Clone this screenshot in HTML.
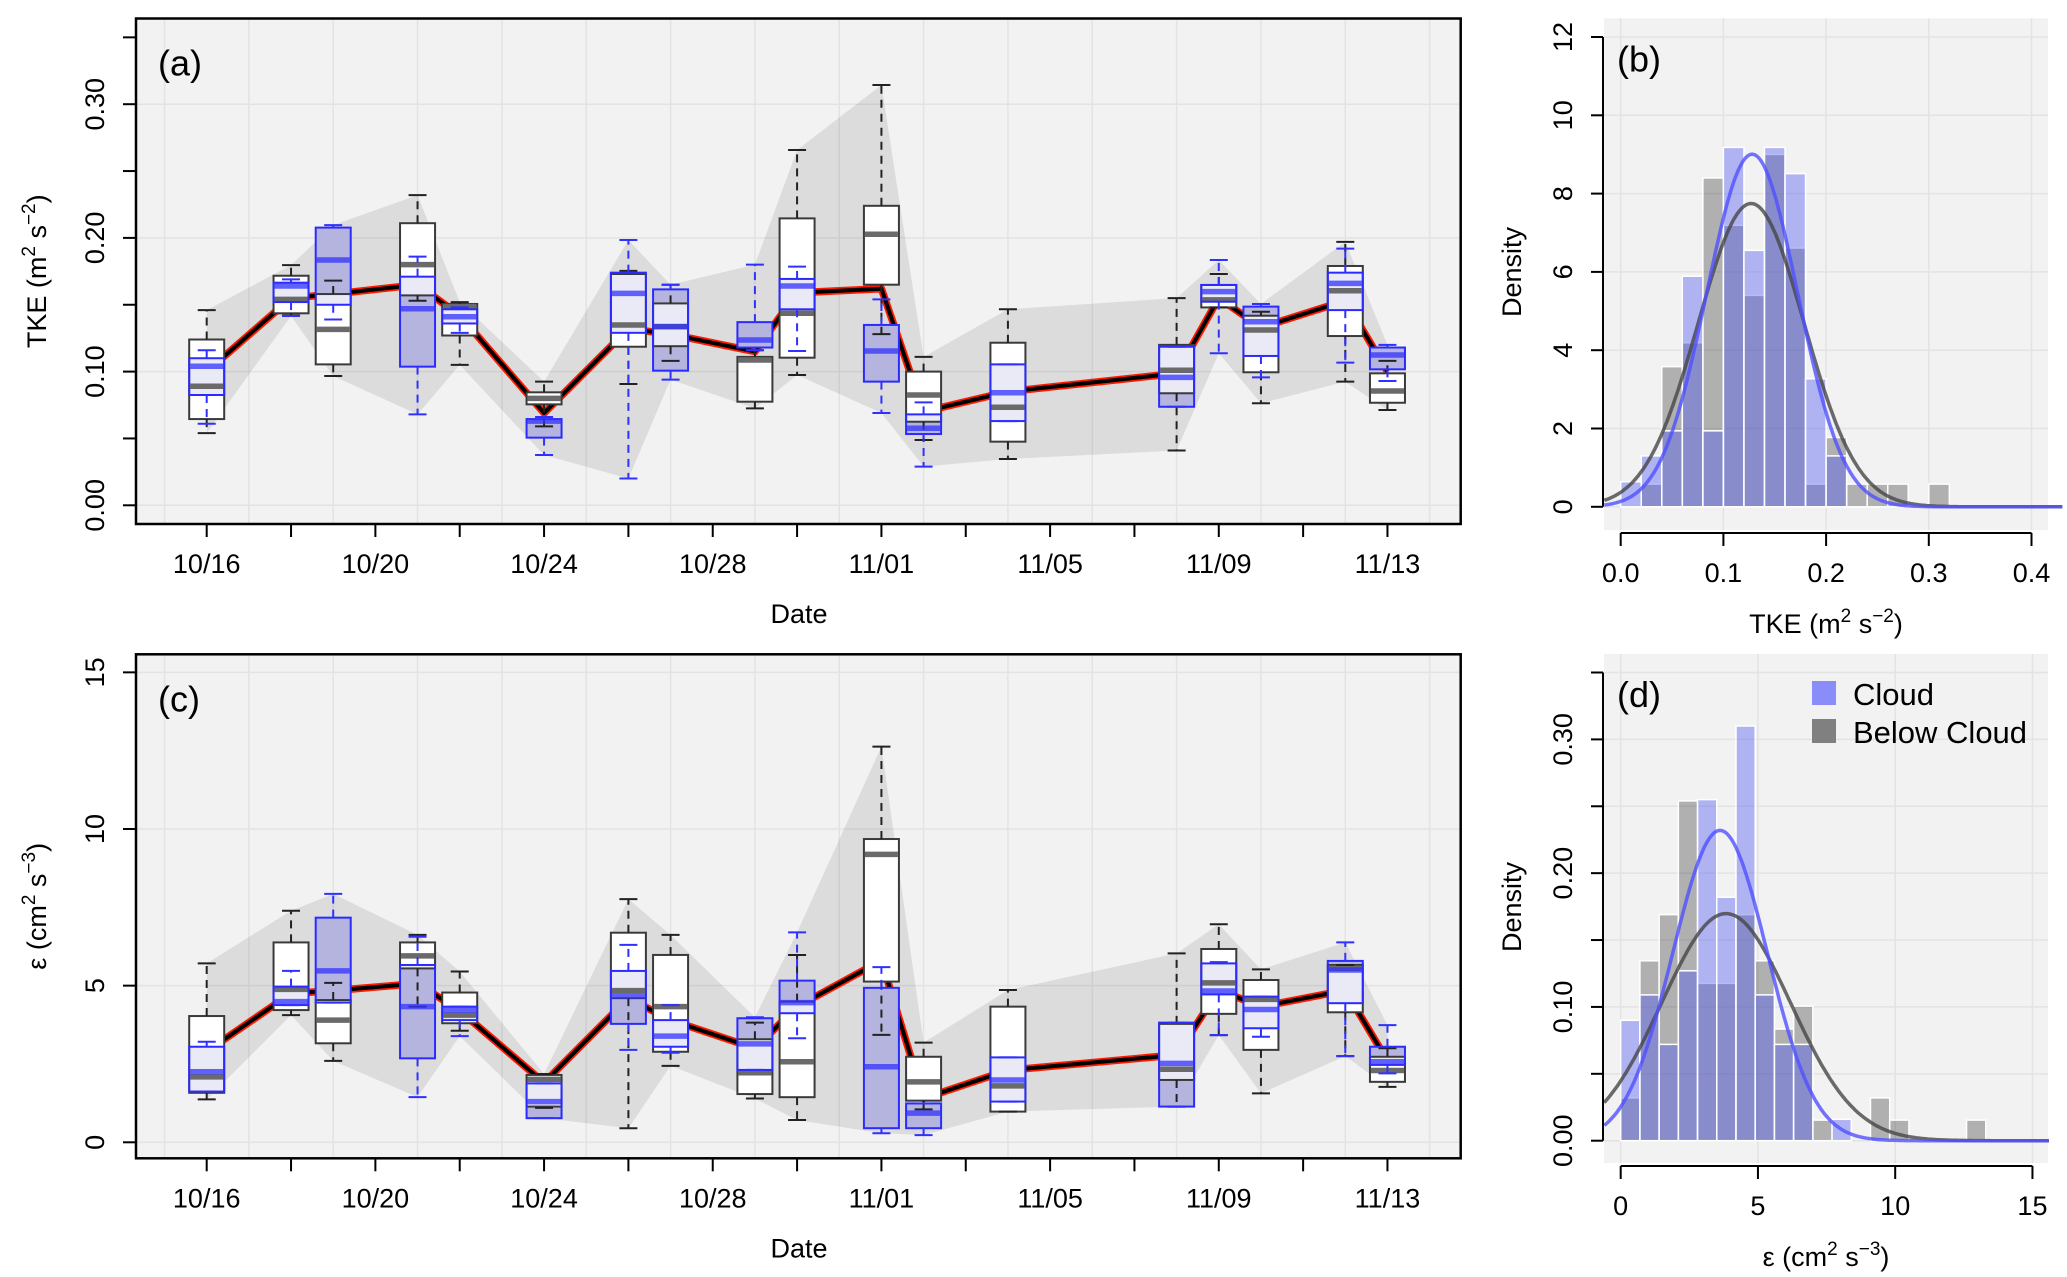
<!DOCTYPE html>
<html><head><meta charset="utf-8">
<style>
html,body{margin:0;padding:0;background:#fff;}
svg{display:block;font-family:"Liberation Sans",Arial,sans-serif;}
</style></head>
<body>
<svg id="fig" xmlns="http://www.w3.org/2000/svg" width="2067" height="1277" viewBox="0 0 2067 1277"></svg>
<script>
// ===== Panel (a) TKE box data =====
const days = [0,2,3,5,6,8,10,11,13,14,16,17,19,23,24,25,27,28];
const dateLabels = ["10/16","10/20","10/24","10/28","11/01","11/05","11/09","11/13"];
const A_bLo  = [0.054,0.142,0.0967,0.153,0.105,0.059,0.0907,0.108,0.0725,0.0975,0.128,0.0488,0.0346,0.041,0.148,0.0763,0.0925,0.0713];
const A_bQ1  = [0.0645,0.1436,0.1054,0.157,0.127,0.0755,0.1186,0.119,0.0775,0.1104,0.165,0.0625,0.0476,0.0838,0.148,0.0995,0.1266,0.0767];
const A_bMed = [0.089,0.154,0.1316,0.180,0.1486,0.080,0.1349,0.1336,0.1087,0.1436,0.2027,0.0825,0.0733,0.101,0.1536,0.1311,0.1605,0.0855];
const A_bQ3  = [0.124,0.1717,0.158,0.211,0.1506,0.0845,0.173,0.151,0.111,0.2146,0.224,0.100,0.1216,0.120,0.1648,0.1418,0.179,0.0987];
const A_bHi  = [0.146,0.1796,0.168,0.232,0.152,0.0925,0.1753,0.165,0.116,0.2657,0.3144,0.111,0.1466,0.155,0.173,0.1448,0.197,0.108];
const A_cLo  = [0.061,0.1416,0.139,0.068,0.129,0.0376,0.020,0.094,0.116,0.1154,0.069,0.0289,0.063,0.0737,0.1137,0.0957,0.1067,0.093];
const A_cQ1  = [0.0825,0.152,0.150,0.1037,0.136,0.0506,0.129,0.1007,0.118,0.1466,0.0925,0.0533,0.063,0.0737,0.1523,0.1117,0.146,0.1017];
const A_cMed = [0.104,0.164,0.1835,0.147,0.141,0.063,0.1585,0.1336,0.1236,0.164,0.1154,0.0576,0.0842,0.0957,0.1598,0.1373,0.166,0.1124];
const A_cQ3  = [0.110,0.1665,0.2077,0.171,0.1466,0.0645,0.174,0.1615,0.137,0.1693,0.1349,0.068,0.1054,0.1186,0.1648,0.1486,0.174,0.118];
const A_cHi  = [0.116,0.169,0.2096,0.186,0.148,0.066,0.1984,0.165,0.180,0.1785,0.154,0.077,0.1054,0.1186,0.1835,0.1506,0.192,0.120];
const A_line = [0.100,0.155,0.158,0.165,0.142,0.069,0.132,0.128,0.115,0.159,0.162,0.070,0.085,0.0987,0.155,0.133,0.153,0.100];
const A_yTicks = [0,0.05,0.10,0.15,0.20,0.25,0.30,0.35];
const A_yLabels = ["0.00","0.10","0.20","0.30"];

// ===== Panel (c) dissipation box data =====
const C_bLo  = [1.37,4.06,2.60,4.33,3.56,1.10,0.45,2.44,1.40,0.71,3.43,1.05,0.98,1.14,3.42,1.56,2.75,1.77];
const C_bQ1  = [1.58,4.22,3.16,5.55,3.80,1.14,4.60,2.89,1.54,1.44,5.13,1.33,0.98,1.99,4.10,2.95,4.15,1.93];
const C_bMed = [2.09,4.88,3.90,5.95,4.06,2.01,4.84,4.33,2.22,2.57,9.19,1.93,1.80,2.33,5.09,4.56,5.55,2.29];
const C_bQ3  = [4.03,6.38,4.54,6.38,4.78,2.15,6.69,5.98,3.29,4.49,9.68,2.73,4.33,3.78,6.17,5.18,5.66,2.73];
const C_bHi  = [5.71,7.39,5.09,6.62,5.45,2.18,7.76,6.62,3.82,5.98,12.63,3.18,4.86,6.03,6.96,5.52,5.66,3.00];
const C_cLo  = [1.62,4.38,4.46,1.44,3.39,0.77,2.95,2.86,2.31,3.32,0.29,0.23,1.30,1.14,3.42,3.37,2.75,2.20];
const C_cQ1  = [1.62,4.38,4.46,2.68,3.90,0.77,3.78,3.05,2.31,4.12,0.45,0.45,1.30,1.14,4.72,3.64,4.44,2.47];
const C_cMed = [2.25,4.49,5.47,4.33,4.22,1.30,4.67,3.39,3.14,4.46,2.41,0.93,1.99,2.52,4.83,4.24,5.50,2.57];
const C_cQ3  = [3.05,4.97,7.17,5.66,4.33,1.88,5.47,3.90,3.96,5.16,4.93,1.24,2.71,3.82,5.71,4.65,5.79,3.05];
const C_cHi  = [3.21,5.47,7.93,6.56,4.33,1.88,6.30,4.38,3.99,6.70,5.59,1.24,2.71,3.82,5.75,4.65,6.38,3.74];
const C_line = [2.9,4.75,4.84,5.07,4.2,1.9,4.6,3.9,3.0,4.33,5.8,1.40,2.3,2.79,4.86,4.33,4.85,2.6];
const C_yTicks = [0,5,10,15];
const C_yLabels = ["0","5","10","15"];

// ===== Panel (b) TKE histogram =====
const B_binStart = 0.0, B_binWidth = 0.02;
const B_cloud = [0.64,1.30,1.94,5.89,1.94,9.18,6.55,9.18,8.51,3.27,1.30,0,0,0,0,0];
const B_below = [0,0.58,3.58,4.19,8.40,7.19,5.40,9.00,6.61,0.58,1.77,0.58,0.58,0.58,0,0.58];
const B_fitCloud = [0.128,0.0443];   // mean, sd
const B_fitBelow = [0.127,0.0515];
const B_xTicks = [0,0.1,0.2,0.3,0.4];
const B_xLabels = ["0.0","0.1","0.2","0.3","0.4"];
const B_yTicks = [0,2,4,6,8,10,12];

// ===== Panel (d) dissipation histogram =====
const D_binStart = 0.0, D_binWidth = 0.7;
const D_cloud = [0.090,0.109,0.072,0.127,0.255,0.182,0.310,0.109,0.072,0.072,0,0.016,0,0,0,0,0,0,0];
const D_below = [0.032,0.1345,0.169,0.254,0.1176,0.1176,0.169,0.1345,0.0835,0.1006,0.0154,0,0,0.032,0.0154,0,0,0,0.0154];
const D_fitCloud = [3.62,1.72];
const D_fitBelow = [3.84,2.35];
const D_xTicks = [0,5,10,15];
const D_yTicks = [0,0.05,0.10,0.15,0.20,0.25,0.30,0.35];
const D_yLabels = ["0.00","0.10","0.20","0.30"];

const NS = "http://www.w3.org/2000/svg";
const svg = document.getElementById("fig");
function mk(tag, attrs, parent){
  const e = document.createElementNS(NS, tag);
  for (const k in attrs) e.setAttribute(k, attrs[k]);
  (parent||svg).appendChild(e);
  return e;
}
function grp(parent){ return mk("g", {}, parent); }

const xA = d => 206.7 + 42.17*d;
const FS = 27;

function boxPanel(P){
  const g = grp();
  
  
  const bg = mk("rect",{x:136,y:P.top,width:1324.7,height:P.bottom-P.top,fill:"#f2f2f2"},g);
  
  
  for (let d=-1; d<=29; d+=2){
    const l = mk("line",{x1:xA(d),x2:xA(d),y1:P.top,y2:P.bottom,stroke:"#e3e3e3","stroke-width":1.5},g);
    
    
  }
  P.gridY.forEach(v=>{
    const l = mk("line",{x1:136,x2:1460.7,y1:P.y(v),y2:P.y(v),stroke:"#e3e3e3","stroke-width":1.5},g);
    
    
  });
  let top=[], bot=[];
  days.forEach((d,i)=>{
    top.push(xA(d)+","+P.y(Math.max(P.bHi[i],P.cHi[i])));
    bot.unshift(xA(d)+","+P.y(Math.min(P.bLo[i],P.cLo[i])));
  });
  const env = mk("polygon",{points:top.concat(bot).join(" "),fill:"rgba(0,0,0,0.09)"},g);
  
  
  const pts = days.map((d,i)=>xA(d)+","+P.y(P.line[i])).join(" ");
  const lr = mk("polyline",{points:pts,fill:"none",stroke:"#ff1a00","stroke-width":7.5,"stroke-linejoin":"round"},g);
  
  
  const lb = mk("polyline",{points:pts,fill:"none",stroke:"#000","stroke-width":4,"stroke-linejoin":"round"},g);
  
  
  const hw = 17.5, cw = 9;
  days.forEach((d,i)=>{
    const x = xA(d);
    const bg2 = grp(g);
    
    
    const cy3 = P.y(P.cQ3[i]), cy1 = P.y(P.cQ1[i]);
    const by3 = P.y(P.bQ3[i]), by1 = P.y(P.bQ1[i]);
    const bb = mk("rect",{x:x-hw,y:by3,width:2*hw,height:Math.max(1,by1-by3),fill:"#fff"},bg2);
    
    
    const cf = mk("rect",{x:x-hw,y:cy3,width:2*hw,height:Math.max(1,cy1-cy3),fill:"#b4b4de"},bg2);
    
    
    const bf = mk("rect",{x:x-hw,y:by3,width:2*hw,height:Math.max(1,by1-by3),fill:"#fff","fill-opacity":0.72},bg2);
    
    
    const bo = mk("rect",{x:x-hw,y:by3,width:2*hw,height:Math.max(1,by1-by3),fill:"none",stroke:"#3a3a3a","stroke-width":2},bg2);
    
    
    const bm = mk("line",{x1:x-hw+1,x2:x+hw-1,y1:P.y(P.bMed[i]),y2:P.y(P.bMed[i]),stroke:"#6a6a6a","stroke-width":5.5},bg2);
    
    
    [[by3,P.y(P.bHi[i])],[by1,P.y(P.bLo[i])]].forEach(([a,b])=>{
      const w = mk("line",{x1:x,x2:x,y1:a,y2:b,stroke:"#222","stroke-width":2,"stroke-dasharray":"8,6"},bg2);
      
      
      const c = mk("line",{x1:x-cw,x2:x+cw,y1:b,y2:b,stroke:"#222","stroke-width":2},bg2);
      
      
    });
    const co = mk("rect",{x:x-hw,y:cy3,width:2*hw,height:Math.max(1,cy1-cy3),fill:"none",stroke:"#2b2bff","stroke-width":2},bg2);
    
    
    const cm = mk("line",{x1:x-hw+1,x2:x+hw-1,y1:P.y(P.cMed[i]),y2:P.y(P.cMed[i]),stroke:"rgba(50,50,255,0.75)","stroke-width":5.5},bg2);
    
    
    [[cy3,P.y(P.cHi[i])],[cy1,P.y(P.cLo[i])]].forEach(([a,b])=>{
      const w = mk("line",{x1:x,x2:x,y1:a,y2:b,stroke:"#3030ff","stroke-width":2,"stroke-dasharray":"8,6"},bg2);
      
      
      const c = mk("line",{x1:x-cw,x2:x+cw,y1:b,y2:b,stroke:"#3030ff","stroke-width":2},bg2);
      
      
    });
  });
  const fr = mk("rect",{x:136,y:P.top,width:1324.7,height:P.bottom-P.top,fill:"none",stroke:"#000","stroke-width":2.5},g);
  
  
  for (let d=0; d<=28; d+=2){
    const t = mk("line",{x1:xA(d),x2:xA(d),y1:P.bottom,y2:P.bottom+13,stroke:"#000","stroke-width":2},g);
    
    
  }
  dateLabels.forEach((s,k)=>{
    const t = mk("text",{x:xA(k*4),y:P.bottom+49,"font-size":FS,"text-anchor":"middle"},g);
    t.textContent = s;
    
    
  });
  const xt = mk("text",{x:799,y:P.bottom+99,"font-size":FS,"text-anchor":"middle"},g);
  xt.textContent = "Date";
  
  
  P.yTicks.forEach(v=>{
    const t = mk("line",{x1:123,x2:136,y1:P.y(v),y2:P.y(v),stroke:"#000","stroke-width":2},g);
    
    
  });
  P.yLabels.forEach(s=>{
    const yy = P.y(parseFloat(s));
    const t = mk("text",{x:0,y:0,"font-size":FS,"text-anchor":"middle",transform:`translate(104,${yy}) rotate(-90)`},g);
    t.textContent = s;
    
    
  });
  const yt = mk("text",{x:0,y:0,"font-size":FS,"text-anchor":"middle",transform:`translate(46,${(P.top+P.bottom)/2}) rotate(-90)`},g);
  yt.innerHTML = P.ytitle;
  
  
  const pl = mk("text",{x:158,y:P.top+57,"font-size":36},g);
  pl.textContent = P.label;
  
  
}

boxPanel({name:"panel-a-tke-boxplots",top:18.5,bottom:524,y:v=>505.3-v*1337,gridY:[0,0.1,0.2,0.3],
  bLo:A_bLo,bQ1:A_bQ1,bMed:A_bMed,bQ3:A_bQ3,bHi:A_bHi,cLo:A_cLo,cQ1:A_cQ1,cMed:A_cMed,cQ3:A_cQ3,cHi:A_cHi,line:A_line,
  yTicks:A_yTicks,yLabels:A_yLabels,label:"(a)",
  ytitle:'TKE (m<tspan dy="-11" font-size="19">2</tspan><tspan dy="11"> s</tspan><tspan dy="-11" font-size="19">−2</tspan><tspan dy="11">)</tspan>'});
boxPanel({name:"panel-c-dissipation-boxplots",top:654.3,bottom:1158.3,y:v=>1142.3-v*31.33,gridY:[0,5,10,15],
  bLo:C_bLo,bQ1:C_bQ1,bMed:C_bMed,bQ3:C_bQ3,bHi:C_bHi,cLo:C_cLo,cQ1:C_cQ1,cMed:C_cMed,cQ3:C_cQ3,cHi:C_cHi,line:C_line,
  yTicks:C_yTicks,yLabels:C_yLabels,label:"(c)",
  ytitle:'ε (cm<tspan dy="-11" font-size="19">2</tspan><tspan dy="11"> s</tspan><tspan dy="-11" font-size="19">−3</tspan><tspan dy="11">)</tspan>'});

function histPanel(H){
  const g = grp();
  
  
  const bg = mk("rect",{x:1604,y:H.top,width:444,height:H.bgBottom-H.top,fill:"#f2f2f2"},g);
  
  
  H.yTicks.forEach(v=>{
    const l = mk("line",{x1:1604,x2:2048,y1:H.y(v),y2:H.y(v),stroke:"#e3e3e3","stroke-width":1.5},g);
    
    
  });
  H.xTicks.forEach(v=>{
    const l = mk("line",{x1:H.x(v),x2:H.x(v),y1:H.top,y2:H.bgBottom,stroke:"#e3e3e3","stroke-width":1.5},g);
    
    
  });
  const y0 = H.y(0);
  H.below.forEach((v,i)=>{
    if (v<=0) return;
    const x0 = H.x(H.start+i*H.w), x1 = H.x(H.start+(i+1)*H.w);
    const r = mk("rect",{x:x0,y:H.y(v),width:x1-x0,height:y0-H.y(v),fill:"rgba(0,0,0,0.27)",stroke:"#fff","stroke-width":1.5},g);
    
    
  });
  H.cloud.forEach((v,i)=>{
    if (v<=0) return;
    const x0 = H.x(H.start+i*H.w), x1 = H.x(H.start+(i+1)*H.w);
    const r = mk("rect",{x:x0,y:H.y(v),width:x1-x0,height:y0-H.y(v),fill:"rgba(80,90,240,0.41)",stroke:"#fff","stroke-width":1.5},g);
    
    
  });
  function curve(fit, color, nm){
    let p=[];
    for (let k=0;k<=300;k++){
      const v = H.xmin + (H.xmax-H.xmin)*k/300;
      const dens = Math.exp(-0.5*Math.pow((v-fit[0])/fit[1],2))/(fit[1]*Math.sqrt(2*Math.PI));
      p.push(H.x(v).toFixed(1)+","+H.y(dens).toFixed(1));
    }
    const c = mk("polyline",{points:p.join(" "),fill:"none",stroke:color,"stroke-width":3.5},g);
    
    
  }
  curve(H.fitBelow,"rgba(70,70,70,0.8)","below-cloud-fit-curve");
  curve(H.fitCloud,"rgba(80,80,255,0.8)","cloud-fit-curve");
  const ya = mk("line",{x1:1603,x2:1603,y1:H.y(H.yTicks[0]),y2:H.y(H.yTicks[H.yTicks.length-1]),stroke:"#000","stroke-width":2},g);
  
  
  H.yTicks.forEach(v=>{
    const t = mk("line",{x1:1591,x2:1603,y1:H.y(v),y2:H.y(v),stroke:"#000","stroke-width":2},g);
    
    
  });
  H.yLabels.forEach(s=>{
    const t = mk("text",{x:0,y:0,"font-size":FS,"text-anchor":"middle",transform:`translate(1572,${H.y(parseFloat(s))}) rotate(-90)`},g);
    t.textContent = s;
    
    
  });
  const yt = mk("text",{x:0,y:0,"font-size":FS,"text-anchor":"middle",transform:`translate(1521,${H.yMid}) rotate(-90)`},g);
  yt.textContent = "Density";
  
  
  const xa = mk("line",{x1:H.x(H.xTicks[0]),x2:H.x(H.xTicks[H.xTicks.length-1]),y1:H.axisY,y2:H.axisY,stroke:"#000","stroke-width":2},g);
  
  
  H.xTicks.forEach((v,k)=>{
    const t = mk("line",{x1:H.x(v),x2:H.x(v),y1:H.axisY,y2:H.axisY+13,stroke:"#000","stroke-width":2},g);
    
    
    const l = mk("text",{x:H.x(v),y:H.axisY+49,"font-size":FS,"text-anchor":"middle"},g);
    l.textContent = H.xLabels[k];
    
    
  });
  const xt = mk("text",{x:1826,y:H.axisY+100,"font-size":FS,"text-anchor":"middle"},g);
  xt.innerHTML = H.xtitle;
  
  
  const pl = mk("text",{x:1617,y:H.top+53,"font-size":36},g);
  pl.textContent = H.label;
  
  
  return g;
}

histPanel({name:"panel-b-tke-histogram",top:18.3,bgBottom:530,axisY:533,yMid:272,
  x:v=>1620.7+v*1027,y:v=>506.8-v*39.15,xmin:-0.016,xmax:0.43,
  start:B_binStart,w:B_binWidth,cloud:B_cloud,below:B_below,fitCloud:B_fitCloud,fitBelow:B_fitBelow,
  xTicks:B_xTicks,xLabels:B_xLabels,yTicks:B_yTicks,yLabels:B_yTicks.map(String),label:"(b)",
  xtitle:'TKE (m<tspan dy="-11" font-size="19">2</tspan><tspan dy="11"> s</tspan><tspan dy="-11" font-size="19">−2</tspan><tspan dy="11">)</tspan>'});
const gd = histPanel({name:"panel-d-dissipation-histogram",top:654,bgBottom:1163,axisY:1166,yMid:907,
  x:v=>1620.7+v*27.45,y:v=>1140.7-v*1337.7,xmin:-0.6,xmax:15.6,
  start:D_binStart,w:D_binWidth,cloud:D_cloud,below:D_below,fitCloud:D_fitCloud,fitBelow:D_fitBelow,
  xTicks:D_xTicks,xLabels:D_xTicks.map(String),yTicks:D_yTicks,yLabels:D_yLabels,label:"(d)",
  xtitle:'ε (cm<tspan dy="-11" font-size="19">2</tspan><tspan dy="11"> s</tspan><tspan dy="-11" font-size="19">−3</tspan><tspan dy="11">)</tspan>'});

const lg = grp(gd);


const s1 = mk("rect",{x:1812,y:681,width:24,height:24,fill:"#8a8cf8"},lg);


const t1 = mk("text",{x:1853,y:705,"font-size":31},lg);
t1.textContent = "Cloud";


const s2 = mk("rect",{x:1812,y:719,width:24,height:24,fill:"#808080"},lg);


const t2 = mk("text",{x:1853,y:743,"font-size":31},lg);
t2.textContent = "Below Cloud";


</script>
</body></html>
